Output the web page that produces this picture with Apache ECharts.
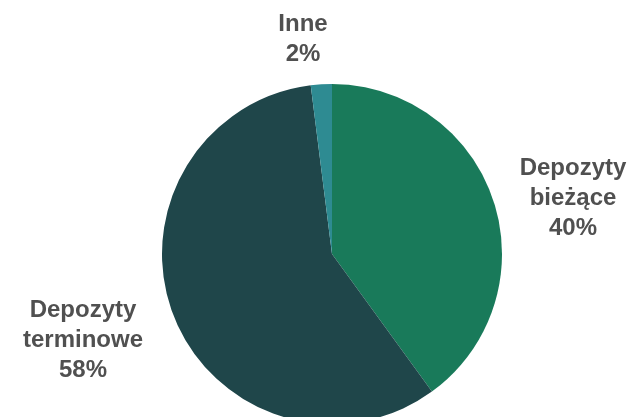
<!DOCTYPE html>
<html>
<head>
<meta charset="utf-8">
<script src="https://cdn.jsdelivr.net/npm/echarts@6/dist/echarts.min.js"></script>
<style>
html,body{margin:0;padding:0;background:#fff;}
#main{width:634px;height:417px;}
</style>
</head>
<body>
<div id="main"></div>
<script>
var categories = ['Depozyty\nbieżące', 'Depozyty\nterminowe', 'Inne'];
var values = [40, 58, 2];
var colors = ['#197a5a', '#1f464a', '#2e8b92'];
var labelPos = [[573, 198], [83, 340], [303, 39]];

var chart = echarts.init(document.getElementById('main'), null, {renderer: 'canvas'});
chart.setOption({
  animation: false,
  series: [{
    type: 'pie',
    center: [332, 254],
    radius: 170,
    startAngle: 90,
    clockwise: true,
    data: categories.map(function (c, i) {
      return {name: c, value: values[i], itemStyle: {color: colors[i]}};
    }),
    label: {
      show: true,
      position: 'outside',
      formatter: '{b}\n{d}%',
      color: '#505050',
      fontFamily: 'Liberation Sans, Arial, sans-serif',
      fontWeight: 'bold',
      fontSize: 24,
      lineHeight: 30,
      align: 'center',
      overflow: 'none',
      width: 200
    },
    labelLine: {show: false},
    labelLayout: function (p) {
      var pos = labelPos[p.dataIndex];
      return {x: pos[0], y: pos[1], align: 'center', verticalAlign: 'middle'};
    },
    emphasis: {disabled: true}
  }]
});
</script>
</body>
</html>
